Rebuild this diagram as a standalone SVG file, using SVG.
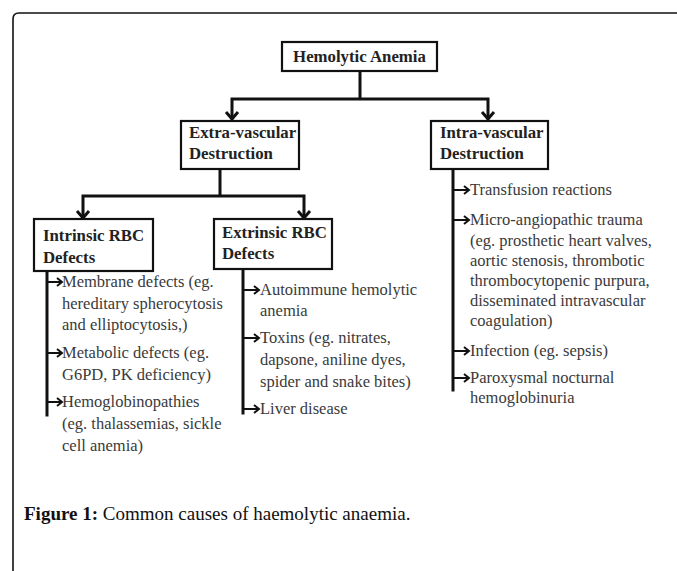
<svg xmlns="http://www.w3.org/2000/svg" width="677" height="571" viewBox="0 0 677 571">
<style>
.bg{fill:#fff}
.frame{fill:none;stroke:#111;stroke-width:1.6}
.box{fill:#fff;stroke:#111;stroke-width:2.2}
.hd{font-family:"Liberation Serif","Times New Roman",serif;font-weight:bold;font-size:16.8px;fill:#222}
.it{font-family:"Liberation Serif","Times New Roman",serif;font-size:16.5px;fill:#3a3a3a}
.ln{fill:none;stroke:#111;stroke-width:3;stroke-linecap:square}
.ah{fill:none;stroke:#111;stroke-width:3;stroke-linejoin:miter;stroke-linecap:butt}
.st{fill:none;stroke:#111;stroke-width:2}
.sh{fill:none;stroke:#111;stroke-width:2;stroke-linejoin:miter}
.cap{font-family:"Liberation Serif","Times New Roman",serif;font-size:19px;fill:#111}
</style>
<rect class="bg" width="677" height="571"/>
<path class="frame" d="M13,571 V19 Q13,13 19,13 H677"/>

<g id="connectors">
<path class="ln" d="M360,72 V99 M232,99 H488 M232,99 V118 M488,99 V118"/>
<path class="ah" d="M226,112 L232,119 L238,112 M482,112 L488,119 L494,112"/>
<path class="ln" d="M220,170 V196 M83,196 H304 M83,196 V217 M304,196 V217"/>
<path class="ah" d="M77,211 L83,218 L89,211 M298,211 L304,218 L310,211"/>
<path class="ln" d="M47,272 V415"/>
<path class="st" d="M47,282 H62 M47,353 H62 M47,402 H62"/>
<path class="sh" d="M57,278 L62,282 L57,286 M57,349 L62,353 L57,357 M57,398 L62,402 L57,406"/>
<path class="ln" d="M243,269 V413"/>
<path class="st" d="M243,290 H259 M243,338 H259 M243,409 H259"/>
<path class="sh" d="M254,286 L259,290 L254,294 M254,334 L259,338 L254,342 M254,405 L259,409 L254,413"/>
<path class="ln" d="M453,170 V390"/>
<path class="st" d="M453,190 H469 M453,220 H469 M453,351 H469 M453,378 H469"/>
<path class="sh" d="M464,186 L469,190 L464,194 M464,216 L469,220 L464,224 M464,347 L469,351 L464,355 M464,374 L469,378 L464,382"/>
</g>

<g id="hemolytic-anemia">
<rect class="box" x="282" y="42" width="155" height="29"/>
<text class="hd" x="359.5" y="62" text-anchor="middle">Hemolytic Anemia</text>
</g>
<g id="extra-vascular">
<rect class="box" x="181" y="121" width="118" height="48"/>
<text class="hd" x="189" y="138">Extra-vascular</text>
<text class="hd" x="189" y="159">Destruction</text>
</g>
<g id="intra-vascular">
<rect class="box" x="431" y="121" width="117" height="48"/>
<text class="hd" x="440" y="138">Intra-vascular</text>
<text class="hd" x="440" y="159">Destruction</text>
</g>
<g id="intrinsic">
<rect class="box" x="34" y="219" width="119" height="52"/>
<text class="hd" x="43" y="241">Intrinsic RBC</text>
<text class="hd" x="43" y="263">Defects</text>
</g>
<g id="extrinsic">
<rect class="box" x="214" y="219" width="118" height="50"/>
<text class="hd" x="222" y="238">Extrinsic RBC</text>
<text class="hd" x="222" y="259">Defects</text>
</g>

<g id="intrinsic-items">
<text class="it" x="62" y="287">Membrane defects (eg.</text>
<text class="it" x="62" y="308.5">hereditary spherocytosis</text>
<text class="it" x="62" y="330">and elliptocytosis,)</text>
<text class="it" x="62" y="358">Metabolic defects (eg.</text>
<text class="it" x="62" y="380">G6PD, PK deficiency)</text>
<text class="it" x="62" y="407">Hemoglobinopathies</text>
<text class="it" x="62" y="429">(eg. thalassemias, sickle</text>
<text class="it" x="62" y="451">cell anemia)</text>
</g>
<g id="extrinsic-items">
<text class="it" x="260" y="295">Autoimmune hemolytic</text>
<text class="it" x="260" y="316">anemia</text>
<text class="it" x="260" y="343">Toxins (eg. nitrates,</text>
<text class="it" x="260" y="365">dapsone, aniline dyes,</text>
<text class="it" x="260" y="387">spider and snake bites)</text>
<text class="it" x="260" y="414">Liver disease</text>
</g>
<g id="intra-items">
<text class="it" x="470" y="195">Transfusion reactions</text>
<text class="it" x="470" y="225">Micro-angiopathic trauma</text>
<text class="it" x="470" y="245.5">(eg. prosthetic heart valves,</text>
<text class="it" x="470" y="266">aortic stenosis, thrombotic</text>
<text class="it" x="470" y="286">thrombocytopenic purpura,</text>
<text class="it" x="470" y="306">disseminated intravascular</text>
<text class="it" x="470" y="326">coagulation)</text>
<text class="it" x="470" y="356">Infection (eg. sepsis)</text>
<text class="it" x="470" y="383">Paroxysmal nocturnal</text>
<text class="it" x="470" y="403">hemoglobinuria</text>
</g>

<g id="caption">
<text class="cap" x="24" y="520"><tspan font-weight="bold">Figure 1:</tspan> Common causes of haemolytic anaemia.</text>
</g>
</svg>
